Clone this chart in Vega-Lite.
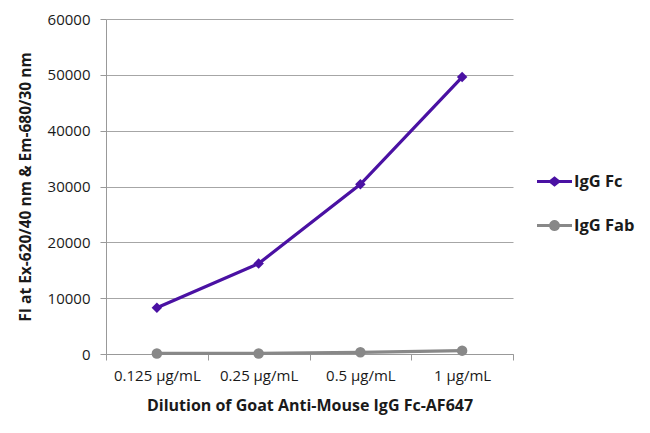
{
  "$schema": "https://vega.github.io/schema/vega-lite/v6.json",
  "autosize": {"type": "none"},
  "width": 407,
  "height": 335,
  "padding": {"left": 106, "top": 19, "right": 137, "bottom": 79},
  "background": "white",
  "config": {
    "view": {"stroke": null},
    "font": "Open Sans"
  },
  "data": {
    "values": [
      {"dilution": "0.125 µg/mL", "series": "IgG Fc", "value": 8300},
      {"dilution": "0.25 µg/mL", "series": "IgG Fc", "value": 16200},
      {"dilution": "0.5 µg/mL", "series": "IgG Fc", "value": 30400},
      {"dilution": "1 µg/mL", "series": "IgG Fc", "value": 49600},
      {"dilution": "0.125 µg/mL", "series": "IgG Fab", "value": 100},
      {"dilution": "0.25 µg/mL", "series": "IgG Fab", "value": 100},
      {"dilution": "0.5 µg/mL", "series": "IgG Fab", "value": 300},
      {"dilution": "1 µg/mL", "series": "IgG Fab", "value": 600}
    ]
  },
  "encoding": {
    "x": {
      "field": "dilution",
      "type": "ordinal",
      "sort": ["0.125 µg/mL", "0.25 µg/mL", "0.5 µg/mL", "1 µg/mL"],
      "bandPosition": 0.5,
      "scale": {"type": "band", "paddingInner": 0, "paddingOuter": 0},
      "axis": {
        "title": "Dilution of Goat Anti-Mouse IgG Fc-AF647",
        "titleFont": "Open Sans",
        "titleFontSize": 16,
        "titleFontWeight": "bold",
        "titleColor": "#1a1a1a",
        "titlePadding": 14,
        "labelAngle": 0,
        "labelFontSize": 15,
        "labelColor": "#1a1a1a",
        "labelPadding": 8,
        "tickBand": "extent",
        "tickSize": 6,
        "tickColor": "#999999",
        "domainColor": "#999999",
        "grid": false
      }
    },
    "y": {
      "field": "value",
      "type": "quantitative",
      "scale": {"domain": [0, 60000]},
      "axis": {
        "title": "FI at Ex-620/40 nm & Em-680/30 nm",
        "titleFont": "Open Sans",
        "titleFontSize": 15.5,
        "titleFontWeight": "bold",
        "titleColor": "#1a1a1a",
        "titlePadding": 14,
        "values": [0, 10000, 20000, 30000, 40000, 50000, 60000],
        "format": "d",
        "labelFontSize": 15,
        "labelColor": "#1a1a1a",
        "labelPadding": 10,
        "tickSize": 6,
        "tickColor": "#999999",
        "domainColor": "#999999",
        "gridColor": "#a6a6a6",
        "grid": true
      }
    },
    "color": {
      "field": "series",
      "type": "nominal",
      "sort": ["IgG Fc", "IgG Fab"],
      "scale": {"domain": ["IgG Fc", "IgG Fab"], "range": ["#4a11a3", "#888888"]},
      "legend": {
        "title": null,
        "orient": "none",
        "legendX": 431,
        "legendY": 145,
        "labelFont": "Open Sans",
        "labelFontSize": 16.5,
        "labelFontWeight": "bold",
        "labelColor": "#1a1a1a",
        "labelOffset": 2,
        "rowPadding": 18,
        "symbolSize": 1225,
        "symbolStrokeWidth": 0,
        "symbolOpacity": 1,
        "encode": {
          "symbols": {
            "update": {
              "shape": {"signal": "datum.value === 'IgG Fc' ? 'M-1,-0.08L-0.27,-0.08L0,-0.3L0.27,-0.08L1,-0.08L1,0.08L0.27,0.08L0,0.3L-0.27,0.08L-1,0.08Z' : 'M-1,-0.08L-0.3,-0.08A0.31,0.31 0 0 1 0.3,-0.08L1,-0.08L1,0.08L0.3,0.08A0.31,0.31 0 0 1 -0.3,0.08L-1,0.08Z'"},
              "fill": {"scale": "color", "field": "value"},
              "strokeWidth": {"value": 0},
              "opacity": {"value": 1}
            }
          }
        }
      }
    }
  },
  "layer": [
    {
      "mark": {"type": "line", "strokeWidth": 3.2},
      "encoding": {"detail": {"field": "series"}}
    },
    {
      "transform": [{"filter": "datum.series === 'IgG Fc'"}],
      "mark": {"type": "point", "shape": "diamond", "filled": true, "opacity": 1, "size": 110}
    },
    {
      "transform": [{"filter": "datum.series === 'IgG Fab'"}],
      "mark": {"type": "point", "shape": "circle", "filled": true, "opacity": 1, "size": 110}
    }
  ]
}
